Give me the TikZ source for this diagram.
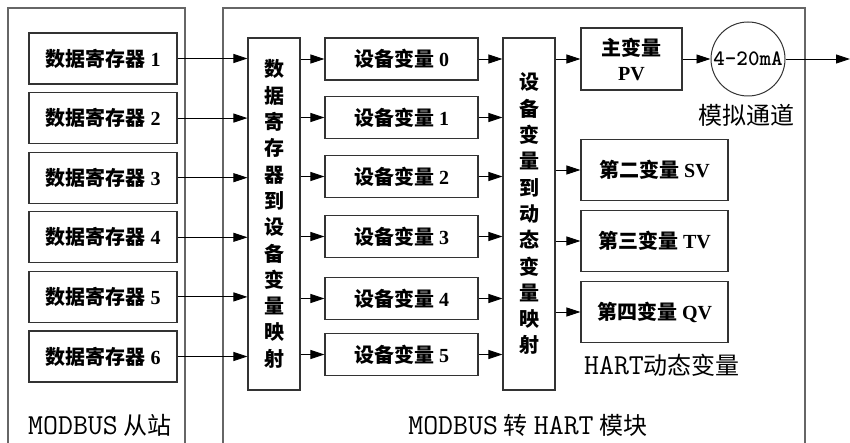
\documentclass[tikz,border=0pt]{standalone}
\usepackage{fontspec}
\setmainfont{Liberation Serif}
\newfontfamily\cjk{Noto Sans CJK SC}
\newfontfamily\lmmono{Latin Modern Mono}
\usetikzlibrary{arrows.meta}
\tikzset{
  box/.style={draw=black!80, line width=1.1pt, rectangle, inner sep=0pt, font=\fontsize{20}{24}\selectfont\bfseries},
  vbox/.style={draw=black!80, line width=1.1pt, rectangle, inner sep=0pt, minimum width=52pt, minimum height=352pt, align=center, font=\fontsize{20}{26.3}\selectfont\bfseries\cjk},
  conn/.style={draw=black, line width=0.9pt, -{Triangle[length=14pt,width=9pt]}},
  frame/.style={draw=black!60, line width=1.5pt},
  lbl/.style={inner sep=0pt, font=\fontsize{24}{28}\selectfont},
}
\newcommand\mono[1]{{\fontsize{29}{30}\selectfont\lmmono #1}}
\begin{document}
\begin{tikzpicture}[x=1pt,y=-1pt]
\useasboundingbox (0,0) rectangle (850,443);
% frames
\draw[frame] (8,446) -- (8,8) -- (185,8) -- (185,446);
\draw[frame] (223,446) -- (223,8) -- (805,8) -- (805,446);
% data registers
\foreach \i/\y in {1/58.5,2/118.1,3/177.7,4/237.3,5/296.9,6/356.5}{
  \node[box, minimum width=148pt, minimum height=51pt] (r\i) at (103,\y) {{\cjk 数据寄存器} \i};
}
\node[vbox] (m1) at (274,214) {数\\据\\寄\\存\\器\\到\\设\\备\\变\\量\\映\\射};
\node[vbox] (m2) at (529,214) {设\\备\\变\\量\\到\\动\\态\\变\\量\\映\\射};
% device variables
\foreach \i/\y in {0/59,1/117.5,2/176.5,3/236.5,4/298.5,5/354.5}{
  \node[box, minimum width=153pt, minimum height=42pt] (d\i) at (401.5,\y) {{\cjk 设备变量} \i};
}
% HART dynamic variables
\node[box, minimum width=101pt, minimum height=62pt, align=center, font=\fontsize{20}{25}\selectfont\bfseries] (pv) at (631.5,59) {{\cjk 主变量}\\PV};
\node[box, minimum width=147pt, minimum height=61pt] (sv) at (654.5,170) {{\cjk 第二变量} SV};
\node[box, minimum width=147pt, minimum height=61pt] (tv) at (654.5,241) {{\cjk 第三变量} TV};
\node[box, minimum width=147pt, minimum height=61pt] (qv) at (654.5,312) {{\cjk 第四变量} QV};
\node[draw=black!80, line width=1pt, circle, minimum size=74pt, inner sep=0pt, font=\fontsize{22}{24}\selectfont\ttfamily\bfseries] (ao) at (748,59) {4-20mA};
\coordinate (out) at (850,59);
% labels
\node[lbl] (l1) at (746,115) {\cjk 模拟通道};
\node[lbl] (l2) at (662,365) {\mono{HART}{\cjk 动态变量}};
\node[lbl] (l3) at (100,425) {\mono{MODBUS}\hspace{6pt}{\cjk 从站}};
\node[lbl] (l4) at (528,425) {\mono{MODBUS}\hspace{6pt}{\cjk 转}\hspace{6pt}\mono{HART}\hspace{6pt}{\cjk 模块}};
% connectors
\foreach \i in {1,...,6}{ \draw[conn] (r\i.east) -- (r\i.east -| m1.west); }
\foreach \i in {0,...,5}{
  \draw[conn] (m1.east |- d\i.west) -- (d\i.west);
  \draw[conn] (d\i.east) -- (d\i.east -| m2.west);
}
\draw[conn] (m2.east |- pv.west) -- (pv.west);
\draw[conn] (m2.east |- sv.west) -- (sv.west);
\draw[conn] (m2.east |- tv.west) -- (tv.west);
\draw[conn] (m2.east |- qv.west) -- (qv.west);
\draw[conn] (pv.east) -- (ao.west);
\draw[conn] (ao.east) -- (out);
\end{tikzpicture}
\end{document}
